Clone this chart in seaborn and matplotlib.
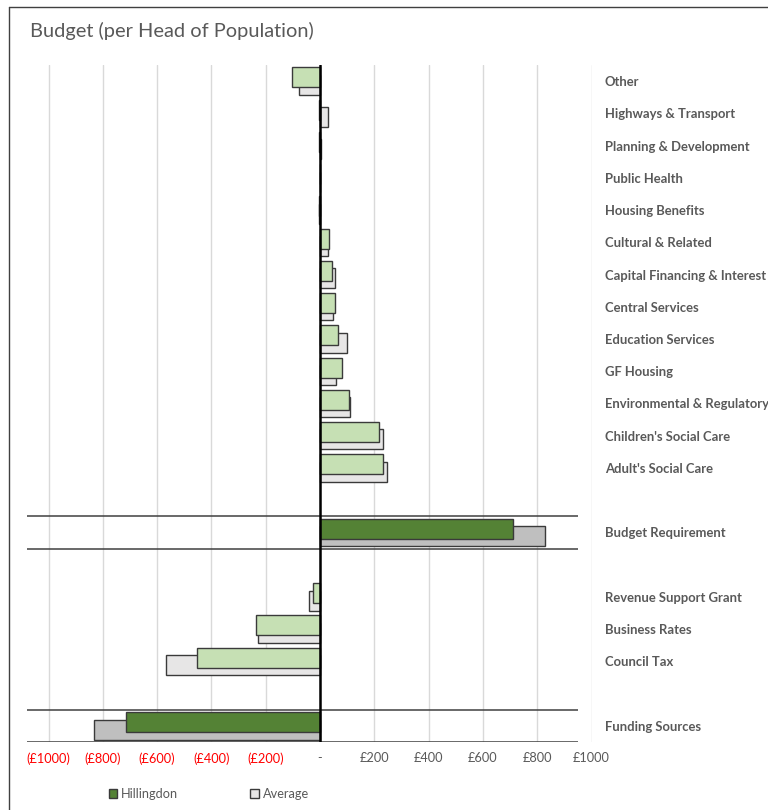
import matplotlib
matplotlib.use("Agg")
import matplotlib.pyplot as plt
import seaborn as sns
import pandas as pd
from matplotlib.patches import Patch
from matplotlib.lines import Line2D

# ---- data ----
categories = ["Other", "Highways & Transport", "Planning & Development", "Public Health",
              "Housing Benefits", "Cultural & Related", "Capital Financing & Interest",
              "Central Services", "Education Services", "GF Housing",
              "Environmental & Regulatory", "Children's Social Care", "Adult's Social Care",
              "Budget Requirement", "Revenue Support Grant", "Business Rates", "Council Tax",
              "Funding Sources"]
hillingdon = [-105, -5, -3, 0, -4, 34, 46, 54, 65, 80, 105, 218, 233,
              710, -25, -236, -453, -713]
average = [-77, 31, 3, 0, -2, 28, 54, 49, 99, 60, 110, 233, 248,
           830, -39, -227, -566, -831]
kinds = ["item"] * 13 + ["total"] + ["item"] * 3 + ["total"]
tick_values = [-1000, -800, -600, -400, -200, 0, 200, 400, 600, 800, 1000]

# row order with blank spacer rows
order = categories[:13] + [""] + [categories[13]] + [" "] + categories[14:17] + ["  "] + [categories[17]]

df = pd.DataFrame({"category": categories, "Hillingdon": hillingdon,
                   "Average": average, "kind": kinds})

sns.set_theme(style="white")
plt.rcParams["font.family"] = ["Lato", "DejaVu Sans"]

W, H = 768, 810
fig = plt.figure(figsize=(W / 100, H / 100), dpi=100)
x0, x1, y0, y1 = 26.8, 591.5, 65, 742
ax = fig.add_axes([x0 / W, 1 - y1 / H, (x1 - x0) / W, (y1 - y0) / H])

edge = "#3a3a3a"
off = 0.115
sns.barplot(data=df, y="category", x="Average", hue="kind", order=order, orient="h",
            palette={"item": "#E7E6E6", "total": "#BFBFBF"}, dodge=False, width=0.62,
            saturation=1, edgecolor=edge, linewidth=1.0, errorbar=None, legend=False,
            ax=ax, zorder=2)
n_avg = len(ax.patches)
for p in ax.patches:
    p.set_y(p.get_y() + off)
sns.barplot(data=df, y="category", x="Hillingdon", hue="kind", order=order, orient="h",
            palette={"item": "#C6E0B4", "total": "#548235"}, dodge=False, width=0.62,
            saturation=1, edgecolor=edge, linewidth=1.0, errorbar=None, legend=False,
            ax=ax, zorder=3)
for p in ax.patches[n_avg:]:
    p.set_y(p.get_y() - off)

n = len(order)
ax.set_ylim(n - 0.5, -0.5)
ax.set_xlim(-1080, 1000)
ax.set_xlabel("")
ax.set_ylabel("")
for s in ax.spines.values():
    s.set_visible(False)

# gridlines
ax.set_xticks(tick_values)
ax.grid(axis="x", color="#D9D9D9", lw=1.0)
ax.grid(axis="y", visible=False)
ax.set_axisbelow(True)

def fmt(v):
    if v < 0:
        return f"(£{-v})"
    if v == 0:
        return "-"
    return f"£{v}"

ax.set_xticklabels([fmt(v) for v in tick_values])
for lab, v in zip(ax.get_xticklabels(), tick_values):
    lab.set_color("#FF0000" if v < 0 else "#595959")
    lab.set_fontsize(9.2)
ax.tick_params(axis="x", length=0, pad=7.5)

# separator lines
ax.hlines([13.5, 14.5, 19.5, 20.5], -1080, 950, color="#404040", lw=1.1, zorder=4)
ax.axvline(0, color="black", lw=1.8, zorder=5)

# category labels on the right
ax.yaxis.tick_right()
ax.tick_params(axis="y", length=0, pad=9.5)
for lab in ax.get_yticklabels():
    lab.set_fontweight("bold")
    lab.set_fontsize(9.4)
    lab.set_color("#595959")

# title
fig.text(30 / W, 1 - 31 / H, "Budget (per Head of Population)", fontsize=14.4,
         color="#595959", va="center", ha="left")

# frame
fig.add_artist(Line2D([9 / W, 9 / W], [0, 1 - 7 / H], transform=fig.transFigure,
                      color="#404040", lw=1.0))
fig.add_artist(Line2D([9 / W, 1], [1 - 7 / H, 1 - 7 / H], transform=fig.transFigure,
                      color="#404040", lw=1.0))

# legend
handles = [Patch(facecolor="#548235", edgecolor=edge, lw=1.0),
           Patch(facecolor="#E7E6E6", edgecolor=edge, lw=1.0)]
fig.legend(handles, ["Hillingdon", "Average"], loc="center left",
           bbox_to_anchor=(97 / W, 1 - 794 / H), ncol=2, frameon=False, fontsize=9.2,
           handlelength=0.7, handleheight=0.7, handletextpad=0.3, columnspacing=5.6,
           labelcolor="#595959")

fig.savefig("out.png", dpi=100)
